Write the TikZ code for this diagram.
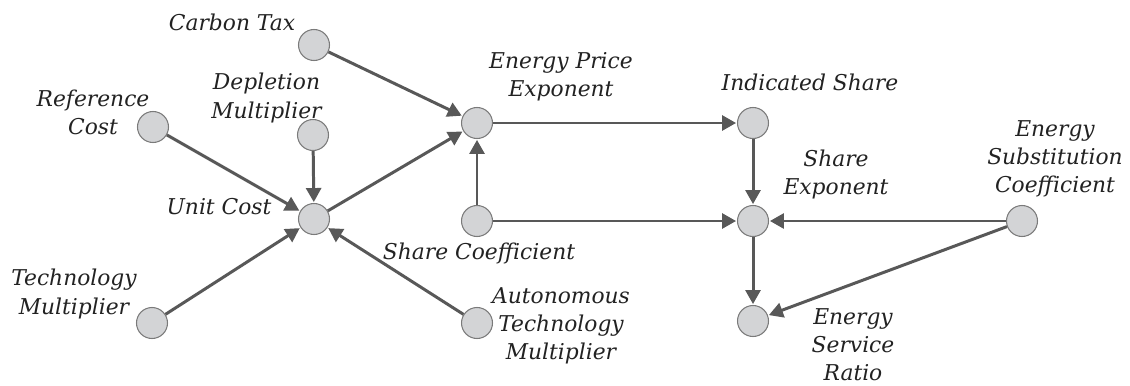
\documentclass[tikz,border=0pt]{standalone}
\usepackage{fontspec}
\setmainfont{DejaVu Serif}
\usetikzlibrary{arrows.meta}

\definecolor{varfill}{HTML}{D3D4D6}
\definecolor{varline}{HTML}{7A7A7A}
\definecolor{linkcol}{HTML}{585858}
\definecolor{textcol}{HTML}{222222}

\begin{document}
\begin{tikzpicture}[
    var/.style={circle, draw=varline, fill=varfill, line width=0.6pt,
      minimum size=0.62cm, inner sep=0pt},
    link/.style={draw=linkcol, line width=1.7pt,
      -{Triangle[length=8pt, width=8.5pt]}, shorten >=0.5pt},
    lbl/.style={align=center, text=textcol,
      font=\fontsize{12.4}{16}\selectfont\itshape, inner sep=0pt}
  ]
  \useasboundingbox (0,0) rectangle (22.6,7.7);

  % variables
  \node[var] (carbon) at (6.28, 6.80) {};
  \node[var] (refcost) at (3.06, 5.16) {};
  \node[var] (depl) at (6.26, 5.00) {};
  \node[var] (unit) at (6.28, 3.32) {};
  \node[var] (techmult) at (3.04, 1.24) {};
  \node[var] (priceexp) at (9.54, 5.24) {};
  \node[var] (indshare) at (15.06, 5.24) {};
  \node[var] (sharecoef) at (9.54, 3.28) {};
  \node[var] (autotech) at (9.54, 1.24) {};
  \node[var] (shareexp) at (15.06, 3.28) {};
  \node[var] (substcoef) at (20.44, 3.28) {};
  \node[var] (serviceratio) at (15.06, 1.28) {};

  % labels
  \node[lbl] (carbonlbl) at (4.64, 7.26) {Carbon Tax};
  \node[lbl] (refcostlbl) at (1.86, 5.45) {Reference\\Cost};
  \node[lbl] (depllbl) at (5.33, 5.74) {Depletion\\Multiplier};
  \node[lbl] (unitlbl) at (4.38, 3.56) {Unit Cost};
  \node[lbl] (techmultlbl) at (1.48, 1.82) {Technology\\Multiplier};
  \node[lbl] (priceexplbl) at (11.22, 6.17) {Energy Price\\Exponent};
  \node[lbl] (indsharelbl) at (16.2, 6.06) {Indicated Share};
  \node[lbl] (sharecoeflbl) at (9.58, 2.64) {Share Coefficient};
  \node[lbl] (autotechlbl) at (11.22, 1.18) {Autonomous\\Technology\\Multiplier};
  \node[lbl] (shareexplbl) at (16.72, 4.21) {Share\\Exponent};
  \node[lbl] (substcoeflbl) at (21.1, 4.52) {Energy\\Substitution\\Coefficient};
  \node[lbl] (serviceratiolbl) at (17.06, 0.81) {Energy\\Service\\Ratio};

  % links
  \draw[link] (refcost) -- (unit);
  \draw[link] (depl) -- (unit);
  \draw[link] (techmult) -- (unit);
  \draw[link] (autotech) -- (unit);
  \draw[link] (carbon) -- (priceexp);
  \draw[link] (unit) -- (priceexp);
  \draw[link] (sharecoef) -- (priceexp);
  \draw[link] (priceexp) -- (indshare);
  \draw[link] (indshare) -- (shareexp);
  \draw[link] (sharecoef) -- (shareexp);
  \draw[link] (substcoef) -- (shareexp);
  \draw[link] (shareexp) -- (serviceratio);
  \draw[link] (substcoef) -- (serviceratio);
\end{tikzpicture}
\end{document}
